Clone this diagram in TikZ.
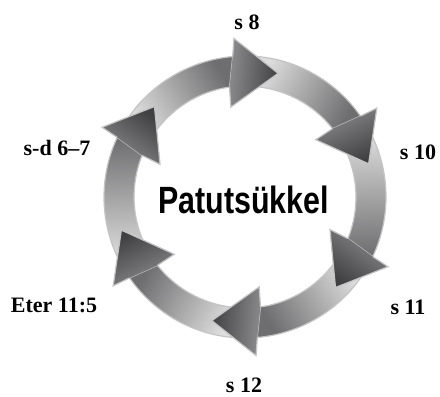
\documentclass[tikz,border=0pt]{standalone}
\usepackage{fontspec}
\setmainfont{Liberation Serif}
\newfontfamily\condsans[FakeStretch=0.8]{Liberation Sans}
\usetikzlibrary{calc}
\definecolor{ringline}{RGB}{196,196,196}
\definecolor{shaftlight}{RGB}{222,222,222}
\definecolor{shaftdark}{RGB}{110,110,112}
\definecolor{headlight}{RGB}{140,140,142}
\definecolor{headdark}{RGB}{64,64,66}
\tikzset{
  verse/.style     = {font=\fontsize{22}{24}\selectfont\bfseries, inner sep=1pt},
  ringtitle/.style = {font=\condsans\bfseries\fontsize{38}{42}\selectfont},
  ringshaft/.style = {draw=ringline, line width=1.2pt},
  ringhead/.style  = {draw=ringline, line width=1.2pt, line join=miter},
}

\begin{document}
\begin{tikzpicture}[x=1pt, y=1pt]
  \useasboundingbox (0,0) rectangle (440,397);
  \coordinate (c) at (245,200);

  % shafts of the six arrows
  \foreach \p [evaluate=\p as \sa using \p-134] in {75,15,-45,-105,-165,-225} {
    \path[ringshaft, top color=shaftdark, bottom color=shaftlight, shading angle=\sa]
      ($(c)+(\p+72:141)$) arc[start angle=\p+72, end angle=\p+20, radius=141]
      -- ($(c)+(\p+23:111)$) arc[start angle=\p+23, end angle=\p+72, radius=111] -- cycle;
  }

  % heads on top
  \foreach \p [evaluate=\p as \sa using \p-170] in {75,15,-45,-105,-165,-225} {
    \path[ringhead, top color=headdark, bottom color=headlight, shading angle=\sa]
      ($(c)+(\p+20:141)$) -- ($(c)+(\p+19:159)$) -- ($(c)+(\p:128)$)
      -- ($(c)+(\p+24:91)$) -- ($(c)+(\p+23:111)$);
  }

  \node[ringtitle] (title) at (243.5,197) {Patutsükkel};

  \node[verse] (s8)   at (247,375) {s 8};
  \node[verse] (s10)  at (418,245) {s 10};
  \node[verse] (s11)  at (408,90)  {s 11};
  \node[verse] (s12)  at (244,12)  {s 12};
  \node[verse] (eter) at (54,92)   {Eter 11:5};
  \node[verse] (sd)   at (57,249)  {s-d 6–7};
\end{tikzpicture}
\end{document}
